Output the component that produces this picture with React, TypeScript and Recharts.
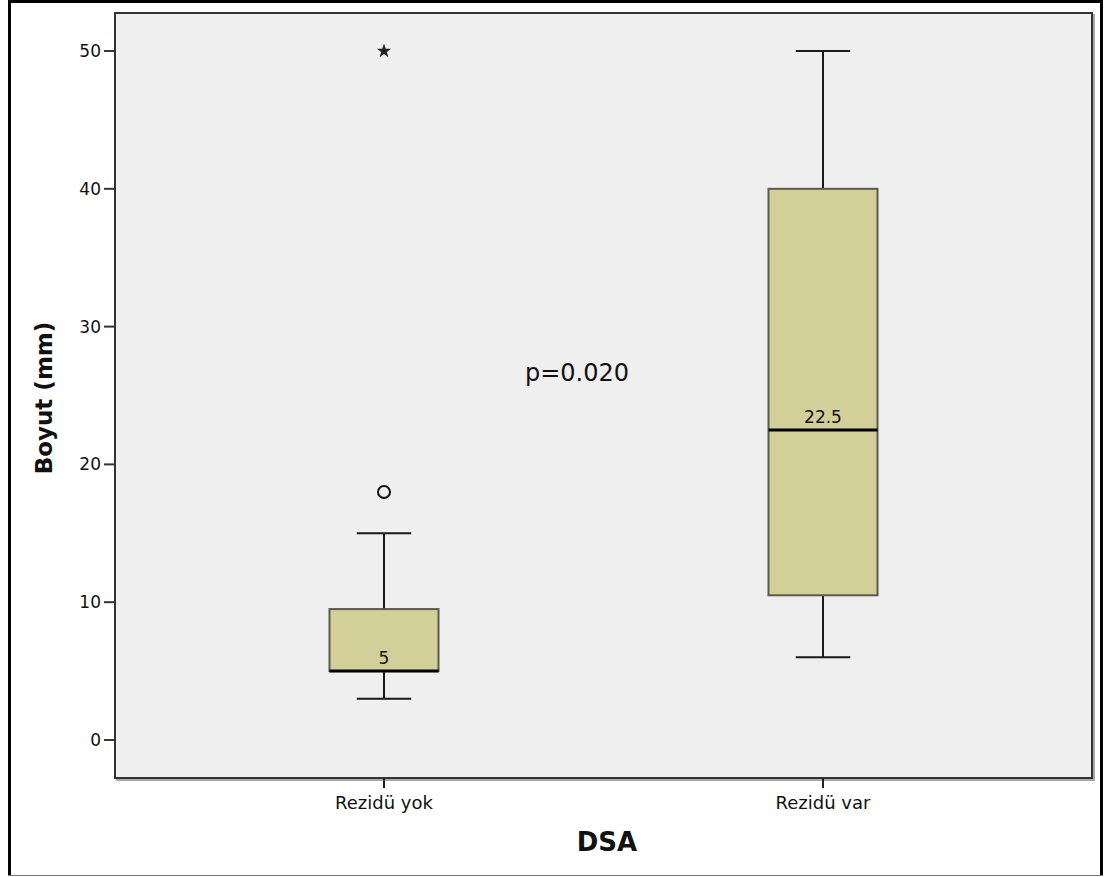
import React from 'react';
import { ComposedChart, Bar, Scatter, XAxis, YAxis, CartesianGrid } from 'recharts';

// box plot values
const categories = ['Rezidü yok', 'Rezidü var'];
const mins = [3, 6];
const q1s = [5, 10.5];
const medians = [5, 22.5];
const q3s = [9.5, 40];
const maxs = [15, 50];
const outliers = [{ name: 'Rezidü yok', value: 18 }];
const extremes = [{ name: 'Rezidü yok', value: 50 }];
const yTicks = [0, 10, 20, 30, 40, 50];

const data = categories.map((name, i) => ({
  name,
  min: mins[i],
  q1: q1s[i],
  median: medians[i],
  q3: q3s[i],
  max: maxs[i],
  box: [q1s[i], q3s[i]],
}));

const FONT = '"DejaVu Sans", sans-serif';
const W = 1105;
const H = 877;
const M = { top: 13, right: 13, bottom: 59, left: 35 };
const Y_AXIS_W = 80;
const X_AXIS_H = 40;

const BoxShape = (props: any) => {
  const { x, y, width, height, payload } = props;
  const top = Math.min(y, y + height);
  const h = Math.abs(height);
  const k = h / (payload.q3 - payload.q1);
  const yOf = (v: number) => top + (payload.q3 - v) * k;
  const cx = x + width / 2;
  const cap = width / 4;
  return (
    <g>
      <line x1={cx} x2={cx} y1={yOf(payload.max)} y2={top} stroke="#1a1a1a" strokeWidth={2} />
      <line x1={cx} x2={cx} y1={top + h} y2={yOf(payload.min)} stroke="#1a1a1a" strokeWidth={2} />
      <line x1={cx - cap} x2={cx + cap} y1={yOf(payload.max)} y2={yOf(payload.max)} stroke="#1a1a1a" strokeWidth={2} />
      <line x1={cx - cap} x2={cx + cap} y1={yOf(payload.min)} y2={yOf(payload.min)} stroke="#1a1a1a" strokeWidth={2} />
      <rect x={x} y={top} width={width} height={h} fill="#d3cf99" stroke="#5b5a4c" strokeWidth={2} />
      <line x1={x} x2={x + width} y1={yOf(payload.median)} y2={yOf(payload.median)} stroke="#000" strokeWidth={3} />
      <text
        x={cx}
        y={yOf(payload.median) - 7}
        textAnchor="middle"
        fontFamily={FONT}
        fontSize={17}
        fill="#111"
      >
        {payload.median}
      </text>
    </g>
  );
};

const OutlierDot = (props: any) => (
  <circle cx={props.cx} cy={props.cy} r={6} fill="none" stroke="#111" strokeWidth={2} />
);

const App: React.FC = () => {
  const plotX = M.left + Y_AXIS_W;
  const plotY = M.top;
  const plotW = W - plotX - M.right;
  const plotH = H - M.top - M.bottom - X_AXIS_H;

  return (
    <div style={{ position: 'absolute', left: 0, top: 0, width: W, height: H }}>
      <ComposedChart width={W} height={H} data={data} margin={M}>
        {/* outer frame of the exported figure */}
        <path d="M9.5,875 L9.5,1.5 L1101.5,1.5 L1101.5,875" fill="none" stroke="#000" strokeWidth={3} />
        <line x1={8} x2={1103} y1={875.5} y2={875.5} stroke="#777" strokeWidth={1} />
        <CartesianGrid fill="#efefef" horizontal={false} vertical={false} />
        {/* soft shadow + border round the plot area */}
        <rect x={plotX + 2} y={plotY + 2} width={plotW} height={plotH} fill="none" stroke="#aaa" strokeWidth={2} />
        <rect x={plotX} y={plotY} width={plotW} height={plotH} fill="#efefef" stroke="#333" strokeWidth={2} />
        <XAxis
          dataKey="name"
          type="category"
          allowDuplicatedCategory={false}
          padding={{ left: 49.5, right: 49.5 }}
          height={X_AXIS_H}
          tickSize={10}
          tickMargin={8}
          axisLine={{ stroke: '#333', strokeWidth: 2 }}
          tickLine={{ stroke: '#222', strokeWidth: 2 }}
          tick={{ fontFamily: FONT, fontSize: 18, fill: '#111' }}
        />
        <YAxis
          type="number"
          domain={[-2.76, 52.76]}
          ticks={yTicks}
          width={Y_AXIS_W}
          tickSize={11}
          tickMargin={3}
          axisLine={{ stroke: '#333', strokeWidth: 2 }}
          tickLine={{ stroke: '#333', strokeWidth: 2 }}
          tick={{ fontFamily: FONT, fontSize: 17, fill: '#111' }}
        />
        <Bar dataKey="box" barSize={109} shape={BoxShape} isAnimationActive={false} />
        <Scatter data={outliers} dataKey="value" shape={OutlierDot} isAnimationActive={false} />
        <Scatter data={extremes} dataKey="value" shape="star" size={55} fill="#222" isAnimationActive={false} />
        <text x={577} y={381} textAnchor="middle" fontFamily={FONT} fontSize={24} fill="#111">
          p=0.020
        </text>
        <text
          x={52}
          y={398}
          textAnchor="middle"
          transform="rotate(-90 52 398)"
          fontFamily={FONT}
          fontWeight="bold"
          fontSize={23}
          fill="#111"
        >
          Boyut (mm)
        </text>
        <text x={607} y={851} textAnchor="middle" fontFamily={FONT} fontWeight="bold" fontSize={26} fill="#111">
          DSA
        </text>
      </ComposedChart>
    </div>
  );
};

export default App;
